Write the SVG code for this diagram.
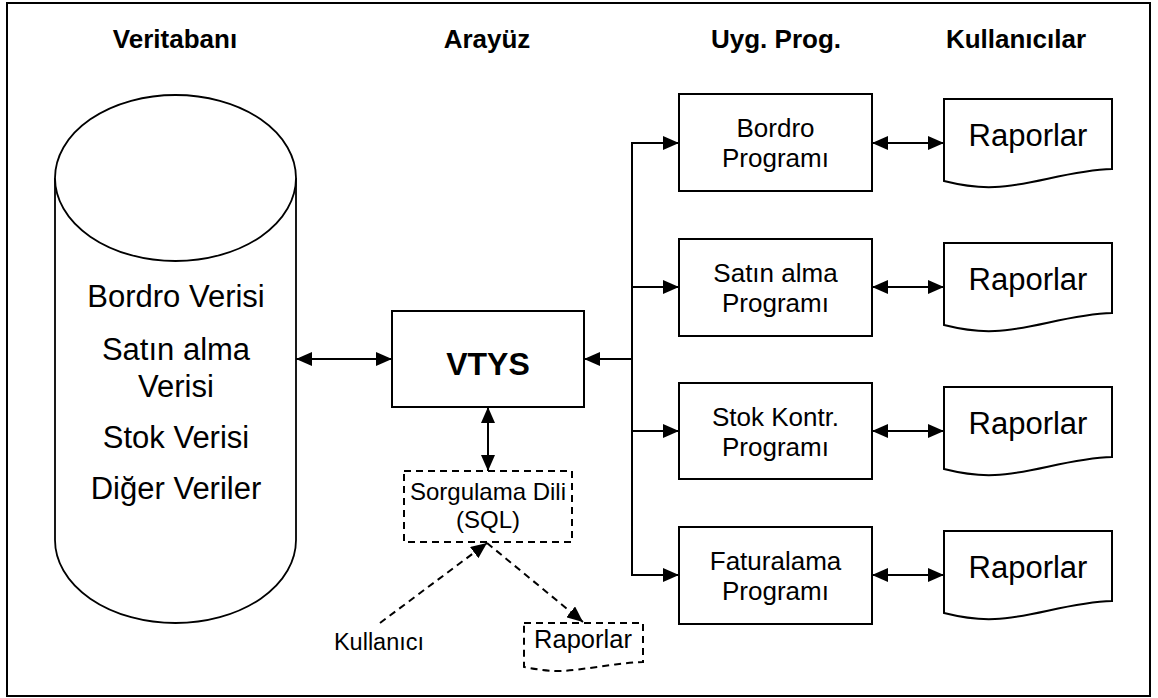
<svg xmlns="http://www.w3.org/2000/svg" width="1158" height="698" viewBox="0 0 1158 698">
<defs>
<marker id="ah" viewBox="0 0 16 14" refX="16" refY="7" markerWidth="16" markerHeight="14" markerUnits="userSpaceOnUse" orient="auto-start-reverse">
<path d="M0,0 L16,7 L0,14 Z" fill="#000"/>
</marker>
</defs>
<style>
.f{fill:#fff;stroke:#000;stroke-width:2}
.d{fill:#fff;stroke:#000;stroke-width:2;stroke-dasharray:7,5}
.c{fill:none;stroke:#000;stroke-width:2}
.cd{fill:none;stroke:#000;stroke-width:2;stroke-dasharray:7,5}
.h{font-family:"Liberation Sans",Arial,sans-serif;font-weight:bold;font-size:26px;text-anchor:middle;fill:#000}
.t{font-family:"Liberation Sans",Arial,sans-serif;font-size:26px;text-anchor:middle;fill:#000}
.big{font-family:"Liberation Sans",Arial,sans-serif;font-size:31px;text-anchor:middle;fill:#000}
.sm{font-family:"Liberation Sans",Arial,sans-serif;font-size:24px;text-anchor:middle;fill:#000}
</style>
<rect x="0" y="0" width="1158" height="698" fill="#fff"/>
<rect x="7" y="3" width="1143" height="693" fill="none" stroke="#000" stroke-width="2"/>
<g id="headers">
<text class="h" x="175" y="48">Veritabanı</text>
<text class="h" x="487" y="48">Arayüz</text>
<text class="h" x="776" y="48">Uyg. Prog.</text>
<text class="h" x="1016" y="48">Kullanıcılar</text>
</g>
<g id="veritabani">
<path d="M55,178 L55,540 A120.5,83 0 0 0 296,540 L296,178" fill="#fff" stroke="#000" stroke-width="1.8"/>
<ellipse cx="175.5" cy="178" rx="120.5" ry="83" fill="#fff" stroke="#000" stroke-width="1.8"/>
<text class="big" x="176" y="307">Bordro Verisi</text>
<text class="big" x="176" y="360">Satın alma</text>
<text class="big" x="176" y="397">Verisi</text>
<text class="big" x="176" y="448">Stok Verisi</text>
<text class="big" x="176" y="499">Diğer Veriler</text>
</g>
<g id="vtys">
<rect class="f" x="392" y="311" width="192" height="96"/>
<text class="h" x="488" y="375" style="font-size:32px">VTYS</text>
</g>
<g id="sql">
<rect class="d" x="404" y="471" width="168" height="71"/>
<text class="sm" x="488" y="500">Sorgulama Dili</text>
<text class="sm" x="488" y="528">(SQL)</text>
</g>
<g id="kullanici">
<text class="sm" x="379" y="650" style="font-size:23.5px">Kullanıcı</text>
</g>
<g id="raporlar-sql">
<path class="d" d="M524,623 H643 V662 C615,663 585,670 560,671 C545,671 535,669 524,667 Z"/>
<text class="t" x="583" y="648" style="font-size:25.5px">Raporlar</text>
</g>
<g id="prog-bordro">
<rect class="f" x="679" y="94" width="193" height="97"/>
<text class="t" x="775.5" y="137">Bordro</text>
<text class="t" x="775.5" y="167">Programı</text>
</g>
<g id="prog-satin">
<rect class="f" x="679" y="239" width="193" height="97"/>
<text class="t" x="775.5" y="282">Satın alma</text>
<text class="t" x="775.5" y="312">Programı</text>
</g>
<g id="prog-stok">
<rect class="f" x="679" y="383" width="193" height="96"/>
<text class="t" x="775.5" y="426">Stok Kontr.</text>
<text class="t" x="775.5" y="456">Programı</text>
</g>
<g id="prog-fatura">
<rect class="f" x="679" y="527" width="193" height="97"/>
<text class="t" x="775.5" y="570">Faturalama</text>
<text class="t" x="775.5" y="600">Programı</text>
</g>
<g id="rapor1">
<path class="f" d="M944,99 H1112 V169 C1070,170 1030,186 995,187 C975,188 960,185 944,181 Z"/>
<text class="big" x="1028" y="146">Raporlar</text>
</g>
<g id="rapor2">
<path class="f" d="M944,243 H1112 V313 C1070,314 1030,330 995,331 C975,332 960,329 944,325 Z"/>
<text class="big" x="1028" y="290">Raporlar</text>
</g>
<g id="rapor3">
<path class="f" d="M944,387 H1112 V457 C1070,458 1030,474 995,475 C975,476 960,473 944,469 Z"/>
<text class="big" x="1028" y="434">Raporlar</text>
</g>
<g id="rapor4">
<path class="f" d="M944,531 H1112 V601 C1070,602 1030,618 995,619 C975,620 960,617 944,613 Z"/>
<text class="big" x="1028" y="578">Raporlar</text>
</g>
<g id="connectors">
<line class="c" x1="296" y1="359" x2="392" y2="359" marker-start="url(#ah)" marker-end="url(#ah)"/>
<line class="c" x1="488" y1="407" x2="488" y2="471" marker-start="url(#ah)" marker-end="url(#ah)"/>
<line class="c" x1="632" y1="143" x2="632" y2="575"/>
<line class="c" x1="632" y1="359" x2="584" y2="359" marker-end="url(#ah)"/>
<line class="c" x1="631" y1="143" x2="679" y2="143" marker-end="url(#ah)"/>
<line class="c" x1="631" y1="287" x2="679" y2="287" marker-end="url(#ah)"/>
<line class="c" x1="631" y1="431" x2="679" y2="431" marker-end="url(#ah)"/>
<line class="c" x1="631" y1="575" x2="679" y2="575" marker-end="url(#ah)"/>
<line class="c" x1="872" y1="143" x2="944" y2="143" marker-start="url(#ah)" marker-end="url(#ah)"/>
<line class="c" x1="872" y1="287" x2="944" y2="287" marker-start="url(#ah)" marker-end="url(#ah)"/>
<line class="c" x1="872" y1="431" x2="944" y2="431" marker-start="url(#ah)" marker-end="url(#ah)"/>
<line class="c" x1="872" y1="575" x2="944" y2="575" marker-start="url(#ah)" marker-end="url(#ah)"/>
<line class="cd" x1="380" y1="623" x2="487" y2="543" marker-end="url(#ah)"/>
<line class="cd" x1="487" y1="543" x2="583" y2="622" marker-end="url(#ah)"/>
</g>
</svg>
